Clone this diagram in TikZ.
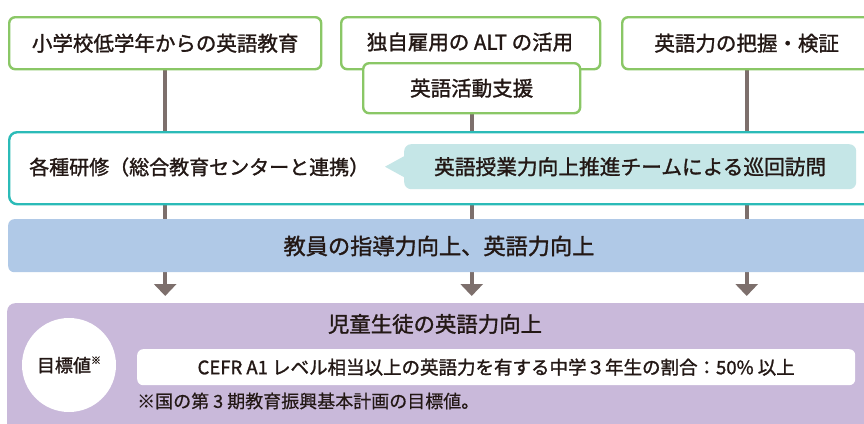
\documentclass[tikz,border=0pt]{standalone}
\usepackage{fontspec}
\setmainfont{Noto Sans CJK JP}[FakeBold=1.4]
\newfontfamily\jplight{Noto Sans CJK JP}[FakeBold=0.5]
\usetikzlibrary{arrows.meta,calc,backgrounds}
\definecolor{grn}{HTML}{8AC766}
\definecolor{tealc}{HTML}{2BBBB8}
\definecolor{bandblue}{HTML}{B0C9E7}
\definecolor{purp}{HTML}{C9B9DA}
\definecolor{ball}{HTML}{C5E6E7}
\definecolor{arrc}{HTML}{7D6F6C}
\definecolor{txt}{HTML}{231815}
\tikzset{
  topbox/.style={draw=grn, line width=2.4pt, fill=white, rounded corners=6pt, inner sep=0pt, text=txt, font=\fontsize{20.5}{22}\selectfont},
  tealbox/.style={draw=tealc, line width=2.4pt, fill=white, rounded corners=8pt, inner sep=0pt},
  bandbox/.style={fill=bandblue, rounded corners=6pt, inner sep=0pt},
  goalbox/.style={fill=purp, rounded corners=8pt, inner sep=0pt},
  balloonbox/.style={fill=ball, rounded corners=7pt, inner sep=0pt, text=txt, font=\fontsize{20.7}{22}\selectfont},
  whitebox/.style={fill=white, rounded corners=6pt, inner sep=0pt, text=txt, font=\fontsize{18.5}{20}\selectfont},
  lbl/.style={inner sep=0pt, text=txt},
  conn/.style={draw=arrc, line width=4pt, -{Triangle[width=22pt,length=12pt]}, shorten >=7pt},
}
\begin{document}
\begin{tikzpicture}[x=1pt,y=-1pt]
\useasboundingbox (0,0) rectangle (864,423);
\clip (0,0) rectangle (864,423);
% top boxes
\node[topbox, anchor=north west, minimum width=312pt, minimum height=52pt] (b1) at (8,16) {小学校低学年からの英語教育};
\node[topbox, anchor=north west, minimum width=259pt, minimum height=52pt] (b2) at (340,16) {};
\node[lbl, font=\fontsize{20.5}{22}\selectfont] (t2) at (470,42) {独自雇用の ALT の活用};
\node[topbox, anchor=north west, minimum width=217pt, minimum height=50pt] (b3) at (362,62) {英語活動支援};
\node[topbox, anchor=north west, minimum width=249pt, minimum height=52pt] (b4) at (621,16) {英語力の把握・検証};
% training box
\node[tealbox, anchor=north west, minimum width=880pt, minimum height=72pt] (kenshu) at (8,131) {};
\node[lbl, anchor=west, font=\fontsize{20}{22}\selectfont] (t5) at (29,167) {各種研修（総合教育センターと連携）};
\node[balloonbox, anchor=north west, minimum width=452pt, minimum height=45pt] (bal) at (404,144) {英語授業力向上推進チームによる巡回訪問};
\fill[ball] ($(bal.west)+(1,-11)$) -- ($(bal.west)+(-19,0)$) -- ($(bal.west)+(1,11)$) -- cycle;
% band
\node[bandbox, anchor=north west, minimum width=880pt, minimum height=53pt] (band) at (8,219) {};
\node[lbl, font=\fontsize{22.2}{24}\selectfont] (t6) at (439,246) {教員の指導力向上、英語力向上};
% goal area
\node[goalbox, anchor=north west, minimum width=880pt, minimum height=140pt] (goal) at (7,303) {};
\node[circle, fill=white, minimum size=94pt, inner sep=0pt, text=txt, font=\fontsize{18}{20}\selectfont] (circ) at (69,365) {目標値\raisebox{0.45em}{\fontsize{10}{10}\selectfont ※}};
\node[lbl, font=\fontsize{21.4}{24}\selectfont] (t7) at (435,324) {児童生徒の英語力向上};
\node[whitebox, anchor=north west, minimum width=718pt, minimum height=36pt] (wb) at (137,349) {CEFR A1 レベル相当以上の英語力を有する中学３年生の割合：50\% 以上};
\node[lbl, anchor=west, font=\jplight\fontsize{18}{20}\selectfont] (t8) at (137,401) {※国の第 3 期教育振興基本計画の目標値。};
% background and connectors
\begin{scope}[on background layer]
\fill[white] (0,0) rectangle (864,423);
\draw[conn] (b1.south) -- (b1.south |- goal.north);
\draw[conn] (b3.south) -- (b3.south |- goal.north);
\draw[conn] (b4.south) -- (b4.south |- goal.north);
\end{scope}
\end{tikzpicture}
\end{document}
